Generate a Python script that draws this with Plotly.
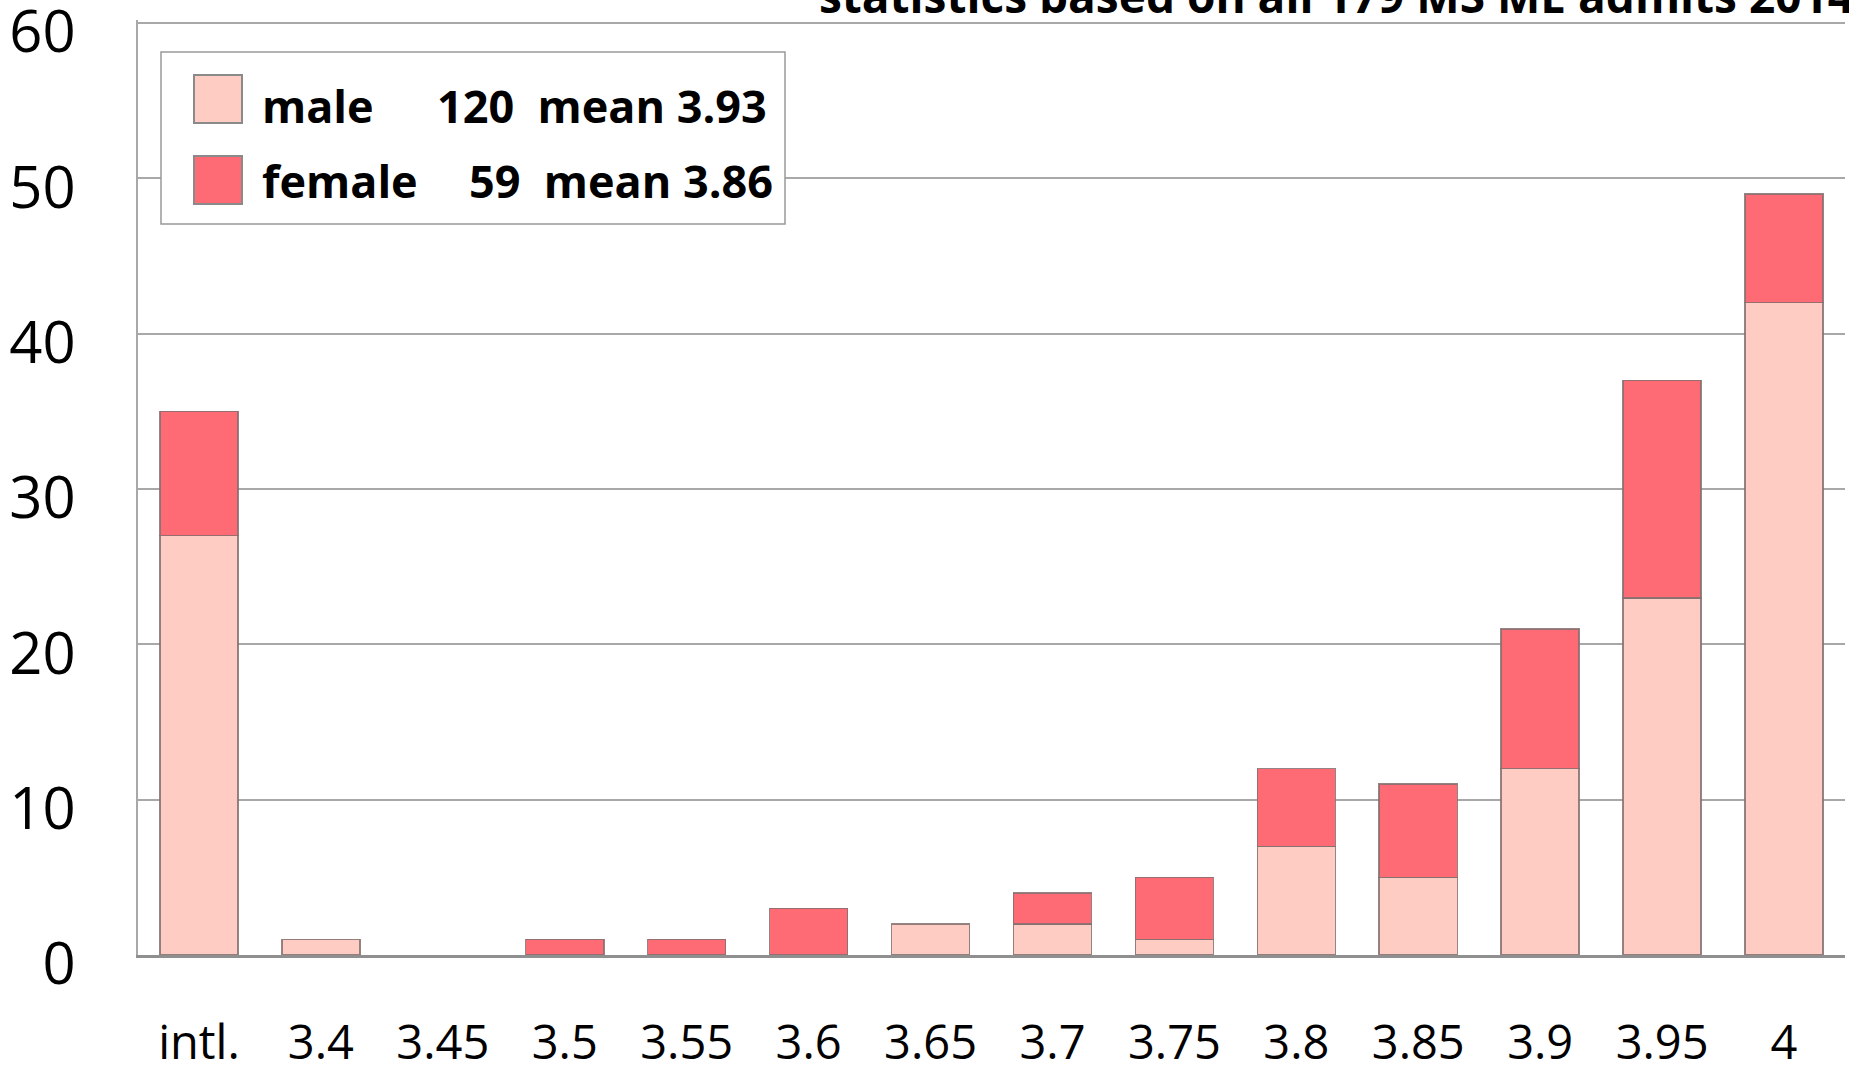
import plotly.graph_objects as go

categories = ["intl.", "3.4", "3.45", "3.5", "3.55", "3.6", "3.65", "3.7", "3.75", "3.8", "3.85", "3.9", "3.95", "4"]
male = [27, 1, 0, 0, 0, 0, 2, 2, 1, 7, 5, 12, 23, 42]
female = [8, 0, 0, 1, 1, 3, 0, 2, 4, 5, 6, 9, 14, 7]
y_ticks = [0, 10, 20, 30, 40, 50, 60]
title_text = "statistics based on all 179 MS ME admits 2014"
legend_rows = [("male", "120", "mean 3.93"), ("female", "59", "mean 3.86")]

male_color = "#FFCCC3"
female_color = "#FF6B74"
edge = "rgba(130,110,110,0.85)"

W, H = 1849, 1076
L, R, T, B = 138, 4, 20, 121
pw, ph = W - L - R, H - T - B

def px(x):
    return (x - L) / pw

def py(y):
    return (H - B - y) / ph

fig = go.Figure()
fig.add_trace(go.Bar(x=categories, y=male, name="male",
                     marker=dict(color=male_color, line=dict(color=edge, width=[1.5 if v else 0 for v in male])),
                     showlegend=False))
fig.add_trace(go.Bar(x=categories, y=female, name="female",
                     marker=dict(color=female_color, line=dict(color=edge, width=[1.5 if v else 0 for v in female])),
                     showlegend=False))

font_family = "Open Sans, Lato, sans-serif"

fig.update_layout(
    barmode="stack",
    bargap=0.36,
    width=W, height=H,
    margin=dict(l=L, r=R, t=T, b=B, pad=0, autoexpand=False),
    paper_bgcolor="white",
    plot_bgcolor="white",
    font=dict(family=font_family, color="black"),
    xaxis=dict(
        type="category",
        automargin=False,
        tickfont=dict(size=47, family=font_family),
        showgrid=False,
        showline=True, linecolor="#8f8f8f", linewidth=3,
        ticks="outside", ticklen=45, tickcolor="rgba(0,0,0,0)",
        range=[-0.5, 13.5],
        ticklabeloverflow="allow",
    ),
    yaxis=dict(
        automargin=False,
        range=[0, 60.2],
        tickvals=y_ticks,
        tickfont=dict(size=58, family=font_family),
        showgrid=True, gridcolor="#a8a8a8", gridwidth=1.5,
        showline=True, linecolor="#a8a8a8", linewidth=1.5,
        ticks="outside", ticklen=49, tickcolor="rgba(0,0,0,0)",
        zeroline=False,
        ticklabeloverflow="allow",
        ticklabelshift=9,
    ),
)

shapes = [
    dict(type="rect", xref="paper", yref="paper", x0=px(161), x1=px(785), y0=py(224), y1=py(52),
         line=dict(color="#999999", width=1.5), fillcolor="white", layer="above"),
    dict(type="rect", xref="paper", yref="paper", x0=px(194), x1=px(242), y0=py(123), y1=py(75),
         line=dict(color="#8a8a8a", width=2), fillcolor=male_color, layer="above"),
    dict(type="rect", xref="paper", yref="paper", x0=px(194), x1=px(242), y0=py(204), y1=py(156),
         line=dict(color="#8a8a8a", width=2), fillcolor=female_color, layer="above"),
]
fig.update_layout(shapes=shapes)

row_y = [106, 180]
right_x = [769, 775]
for (name, n, mean), yy, rx in zip(legend_rows, row_y, right_x):
    fig.add_annotation(xref="paper", yref="paper", x=px(260), y=py(yy), xanchor="left", yanchor="middle",
                       text=name, showarrow=False, font=dict(size=45, family=font_family, weight=700))
    fig.add_annotation(xref="paper", yref="paper", x=px(rx), y=py(yy), xanchor="right", yanchor="middle",
                       text=f"{n}&nbsp;&nbsp;{mean}", showarrow=False, font=dict(size=45, family=font_family, weight=700))

fig.add_annotation(xref="paper", yref="paper", x=px(1856), y=py(-5), xanchor="right", yanchor="middle",
                   text=title_text, showarrow=False, font=dict(size=46, family=font_family, weight=700))

fig.write_html("out.html", config={"displayModeBar": False},
               post_script="document.body.style.margin='0px';document.body.style.overflow='hidden';")
